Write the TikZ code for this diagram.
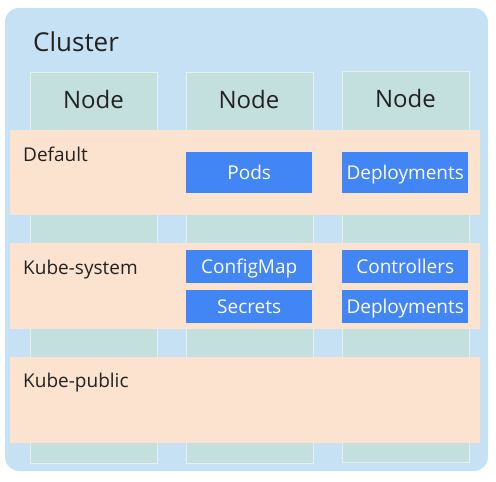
\documentclass[tikz,border=0pt]{standalone}
\usepackage{fontspec}
\setmainfont{Open Sans}
\usetikzlibrary{
    positioning % For relative placement
}
\definecolor{clusterblue}{HTML}{C7E1F4}
\definecolor{nodeteal}{HTML}{C3DFDE}
\definecolor{nspeach}{HTML}{FBE3CF}
\definecolor{resblue}{HTML}{4285F4}
\definecolor{inktext}{HTML}{222222}

\begin{document}
\begin{tikzpicture}[
    x=1pt, y=-1pt, % pixel-like units, y pointing down
    cluster/.style={fill=clusterblue, rounded corners=14pt},
    nodecol/.style={fill=nodeteal, draw=white!55!nodeteal, line width=0.8pt,
        minimum width=127pt, minimum height=391pt, inner sep=0pt, anchor=north west},
    nsband/.style={fill=nspeach, minimum width=470pt, minimum height=86pt,
        inner sep=0pt, anchor=north west},
    res/.style={fill=resblue, text=white, minimum width=126pt, inner sep=0pt,
        text height=13.5pt, text depth=0pt,
        anchor=north west, font=\fontsize{19}{22}\selectfont},
    title/.style={text=inktext, inner sep=0pt, anchor=base west},
    coltitle/.style={text=inktext, inner sep=0pt, anchor=base,
        font=\fontsize{24}{28}\selectfont}
]
    % Fix the page size
    \useasboundingbox (0,0) rectangle (496,482);

    % Cluster background
    \fill[cluster] (5,8) rectangle (488,471);
    \node[title, font=\fontsize{26}{30}\selectfont] (cl) at (33,51) {Cluster};

    % Node columns
    \node[nodecol] (col1) at (30,72) {};
    \node[nodecol] (col2) at (186,72) {};
    \node[nodecol] (col3) at (342,71) {};
    \node[coltitle] (n1) at (93.5,108) {Node};
    \node[coltitle] (n2) at (249,108) {Node};
    \node[coltitle] (n3) at (405.5,107) {Node};

    % Namespace bands
    \node[nsband, minimum height=85pt] (def) at (10,130) {};
    \node[nsband] (sys) at (10,243) {};
    \node[nsband] (pub) at (10,357) {};
    \node[title, font=\fontsize{19}{22}\selectfont] (tdef) at (23,161) {Default};
    \node[title, font=\fontsize{19}{22}\selectfont] (tsys) at (23,274) {Kube-system};
    \node[title, font=\fontsize{19}{22}\selectfont] (tpub) at (23,387) {Kube-public};

    % Resources
    \node[res, minimum height=41pt] (pods) at (186,152) {Pods};
    \node[res, minimum height=41pt] (dep1) at (342,152) {Deployments};
    \node[res, minimum height=33pt] (cfg) at (186,250) {ConfigMap};
    \node[res, minimum height=33pt] (sec) at (186,290) {Secrets};
    \node[res, minimum height=33pt] (ctl) at (342,250) {Controllers};
    \node[res, minimum height=33pt] (dep2) at (342,290) {Deployments};
\end{tikzpicture}
\end{document}
